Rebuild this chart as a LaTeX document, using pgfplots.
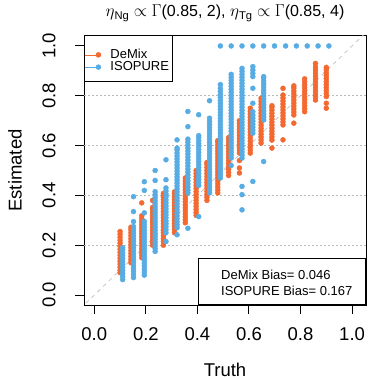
\documentclass[border=0pt]{standalone}
\usepackage{fontspec}
\setmainfont{Liberation Sans}
\usepackage{pgfplots}
\pgfplotsset{compat=1.18}
\definecolor{dmorange}{RGB}{243,105,48}
\definecolor{isoblue}{RGB}{87,172,228}
\begin{document}
\begin{tikzpicture}
\useasboundingbox (0,0) rectangle (368bp,379bp);
\begin{axis}[
  name=ax,
  at={(84bp,74bp)}, anchor=south west,
  scale only axis, width=282bp, height=269bp,
  xmin=-0.04, xmax=1.054, ymin=-0.04, ymax=1.04,
  xtick={0,0.2,0.4,0.6,0.8,1.0}, ytick={0,0.2,0.4,0.6,0.8,1.0},
  xticklabels={0.0,0.2,0.4,0.6,0.8,1.0}, yticklabels={0.0,0.2,0.4,0.6,0.8,1.0},
  xtick pos=lower, ytick pos=left,
  tick align=outside, major tick length=9bp,
  tick style={black, line width=1bp},
  axis line style={line width=1bp},
  ticklabel style={font=\fontsize{18.5bp}{20bp}\selectfont},
  xticklabel style={anchor=center, yshift=-20bp},
  yticklabel style={xshift=-26bp, rotate=90, anchor=center},
  xlabel={Truth}, ylabel={Estimated},
  label style={font=\fontsize{18.5bp}{20bp}\selectfont},
  xlabel style={at={(axis description cs:0.5,-0.2416)}, anchor=center},
  ylabel style={at={(axis description cs:-0.2447,0.5)}, anchor=center},
  title={$\eta$\textsubscript{Ng} $\propto$ $\Gamma$(0.85, 2), $\eta$\textsubscript{Tg} $\propto$ $\Gamma$(0.85, 4)},
  every axis title/.style={at={(axis description cs:0.5,1.0855)}, anchor=center, font=\fontsize{16bp}{18bp}\selectfont},
  extra y ticks={0.2,0.4,0.6,0.8}, extra y tick labels={},
  extra y tick style={grid=major, major tick length=0pt},
  grid style={gray!55, line width=0.8bp, dash pattern=on 1.5bp off 2.5bp},
  legend cell align=left,
  legend style={at={(0,1)}, anchor=north west, draw=none, fill=none,
    yshift=-12.5bp,
    font=\fontsize{13bp}{14bp}\selectfont, inner xsep=0bp, inner ysep=0bp,
    nodes={inner sep=0bp, text height=9.5bp, text depth=2.8bp}, row sep=0bp, column sep=9.3bp},
  legend image code/.code={\path (-14bp,0bp) -- (2.6bp,0bp); \path[#1, draw=none] plot coordinates {(0bp,0bp)};},
]
% DeMix
\addplot[only marks, mark=*, mark size=2.5bp, color=dmorange] coordinates {
(0.100,0.090)(0.100,0.100)(0.100,0.112)(0.100,0.124)(0.100,0.136)(0.100,0.148)(0.100,0.160)(0.100,0.172)(0.100,0.184)(0.100,0.196)(0.100,0.208)(0.100,0.220)(0.100,0.232)(0.100,0.244)(0.100,0.255)
(0.142,0.130)(0.142,0.142)(0.142,0.154)(0.142,0.166)(0.142,0.178)(0.142,0.190)(0.142,0.202)(0.142,0.214)(0.142,0.226)(0.142,0.238)(0.142,0.250)(0.142,0.262)(0.142,0.272)
(0.184,0.150)(0.184,0.162)(0.184,0.174)(0.184,0.186)(0.184,0.198)(0.184,0.210)(0.184,0.222)(0.184,0.234)(0.184,0.246)(0.184,0.258)(0.184,0.270)(0.184,0.282)(0.184,0.294)(0.184,0.306)(0.184,0.318)(0.184,0.370)
(0.226,0.200)(0.226,0.212)(0.226,0.224)(0.226,0.236)(0.226,0.248)(0.226,0.260)(0.226,0.272)(0.226,0.284)(0.226,0.296)(0.226,0.308)(0.226,0.320)(0.226,0.332)(0.226,0.344)(0.226,0.352)(0.226,0.380)
(0.268,0.200)(0.268,0.214)(0.268,0.226)(0.268,0.238)(0.268,0.250)(0.268,0.262)(0.268,0.274)(0.268,0.286)(0.268,0.298)(0.268,0.310)(0.268,0.322)(0.268,0.334)(0.268,0.346)(0.268,0.358)(0.268,0.370)(0.268,0.382)(0.268,0.394)(0.268,0.408)
(0.311,0.250)(0.311,0.262)(0.311,0.274)(0.311,0.286)(0.311,0.298)(0.311,0.310)(0.311,0.322)(0.311,0.334)(0.311,0.346)(0.311,0.358)(0.311,0.370)(0.311,0.382)(0.311,0.394)(0.311,0.406)(0.311,0.414)
(0.353,0.290)(0.353,0.302)(0.353,0.314)(0.353,0.326)(0.353,0.338)(0.353,0.350)(0.353,0.362)(0.353,0.374)(0.353,0.386)(0.353,0.398)(0.353,0.410)(0.353,0.422)(0.353,0.434)(0.353,0.446)(0.353,0.458)(0.353,0.470)
(0.395,0.320)(0.395,0.332)(0.395,0.344)(0.395,0.356)(0.395,0.368)(0.395,0.380)(0.395,0.392)(0.395,0.404)(0.395,0.416)(0.395,0.428)(0.395,0.440)(0.395,0.452)(0.395,0.464)(0.395,0.476)(0.395,0.488)(0.395,0.500)
(0.437,0.380)(0.437,0.392)(0.437,0.404)(0.437,0.416)(0.437,0.428)(0.437,0.440)(0.437,0.452)(0.437,0.464)(0.437,0.476)(0.437,0.488)(0.437,0.500)(0.437,0.512)(0.437,0.524)(0.437,0.532)
(0.479,0.410)(0.479,0.422)(0.479,0.434)(0.479,0.446)(0.479,0.458)(0.479,0.470)(0.479,0.482)(0.479,0.494)(0.479,0.506)(0.479,0.518)(0.479,0.530)(0.479,0.542)(0.479,0.554)(0.479,0.566)(0.479,0.578)(0.479,0.590)(0.479,0.602)(0.479,0.614)(0.479,0.620)
(0.521,0.480)(0.521,0.492)(0.521,0.504)(0.521,0.516)(0.521,0.528)(0.521,0.540)(0.521,0.552)(0.521,0.564)(0.521,0.576)(0.521,0.588)(0.521,0.600)(0.521,0.612)(0.521,0.624)(0.521,0.632)
(0.563,0.490)(0.563,0.510)(0.563,0.540)(0.563,0.570)(0.563,0.582)(0.563,0.594)(0.563,0.606)(0.563,0.618)(0.563,0.630)(0.563,0.642)(0.563,0.654)(0.563,0.666)(0.563,0.678)(0.563,0.690)(0.563,0.700)
(0.605,0.570)(0.605,0.582)(0.605,0.594)(0.605,0.606)(0.605,0.618)(0.605,0.630)(0.605,0.642)(0.605,0.654)(0.605,0.666)(0.605,0.678)(0.605,0.690)(0.605,0.702)(0.605,0.714)(0.605,0.726)(0.605,0.738)(0.605,0.750)
(0.647,0.610)(0.647,0.622)(0.647,0.634)(0.647,0.646)(0.647,0.658)(0.647,0.670)(0.647,0.682)(0.647,0.694)(0.647,0.706)(0.647,0.718)(0.647,0.730)(0.647,0.742)(0.647,0.754)(0.647,0.766)(0.647,0.778)(0.647,0.790)
(0.689,0.590)(0.689,0.622)(0.689,0.634)(0.689,0.646)(0.689,0.658)(0.689,0.670)(0.689,0.682)(0.689,0.694)(0.689,0.706)(0.689,0.718)(0.689,0.730)(0.689,0.742)(0.689,0.754)(0.689,0.760)
(0.732,0.623)(0.732,0.683)(0.732,0.695)(0.732,0.707)(0.732,0.719)(0.732,0.731)(0.732,0.743)(0.732,0.755)(0.732,0.767)(0.732,0.779)(0.732,0.791)(0.732,0.803)(0.732,0.830)
(0.774,0.690)(0.774,0.723)(0.774,0.735)(0.774,0.747)(0.774,0.759)(0.774,0.771)(0.774,0.783)(0.774,0.795)(0.774,0.807)(0.774,0.819)(0.774,0.831)(0.774,0.840)
(0.816,0.736)(0.816,0.748)(0.816,0.760)(0.816,0.772)(0.816,0.784)(0.816,0.796)(0.816,0.808)(0.816,0.820)(0.816,0.832)(0.816,0.844)(0.816,0.856)(0.816,0.868)
(0.858,0.783)(0.858,0.795)(0.858,0.807)(0.858,0.819)(0.858,0.831)(0.858,0.843)(0.858,0.855)(0.858,0.867)(0.858,0.879)(0.858,0.891)(0.858,0.903)(0.858,0.915)(0.858,0.930)
(0.900,0.750)(0.900,0.770)(0.900,0.797)(0.900,0.809)(0.900,0.821)(0.900,0.833)(0.900,0.845)(0.900,0.857)(0.900,0.869)(0.900,0.881)(0.900,0.893)(0.900,0.905)(0.900,0.914)
};
\addlegendentry{DeMix}
% ISOPURE
\addplot[only marks, mark=*, mark size=2.5bp, color=isoblue] coordinates {
(0.110,0.062)(0.110,0.074)(0.110,0.086)(0.110,0.098)(0.110,0.110)(0.110,0.122)(0.110,0.134)(0.110,0.146)(0.110,0.158)(0.110,0.170)(0.110,0.182)(0.110,0.190)
(0.152,0.070)(0.152,0.082)(0.152,0.094)(0.152,0.106)(0.152,0.118)(0.152,0.130)(0.152,0.142)(0.152,0.154)(0.152,0.166)(0.152,0.178)(0.152,0.190)(0.152,0.202)(0.152,0.214)(0.152,0.226)(0.152,0.238)(0.152,0.250)(0.152,0.262)(0.152,0.275)(0.152,0.295)(0.152,0.335)(0.152,0.395)
(0.194,0.080)(0.194,0.092)(0.194,0.104)(0.194,0.116)(0.194,0.128)(0.194,0.140)(0.194,0.152)(0.194,0.164)(0.194,0.176)(0.194,0.188)(0.194,0.200)(0.194,0.212)(0.194,0.224)(0.194,0.236)(0.194,0.248)(0.194,0.260)(0.194,0.272)(0.194,0.284)(0.194,0.296)(0.194,0.330)(0.194,0.420)(0.194,0.455)
(0.236,0.175)(0.236,0.187)(0.236,0.199)(0.236,0.211)(0.236,0.223)(0.236,0.235)(0.236,0.247)(0.236,0.259)(0.236,0.271)(0.236,0.283)(0.236,0.295)(0.236,0.307)(0.236,0.319)(0.236,0.331)(0.236,0.343)(0.236,0.355)(0.236,0.367)(0.236,0.379)(0.236,0.391)(0.236,0.403)(0.236,0.415)(0.236,0.460)(0.236,0.500)
(0.278,0.215)(0.278,0.250)(0.278,0.262)(0.278,0.274)(0.278,0.286)(0.278,0.298)(0.278,0.310)(0.278,0.322)(0.278,0.334)(0.278,0.346)(0.278,0.358)(0.278,0.370)(0.278,0.382)(0.278,0.394)(0.278,0.406)(0.278,0.418)(0.278,0.430)(0.278,0.463)(0.278,0.543)
(0.321,0.242)(0.321,0.270)(0.321,0.282)(0.321,0.294)(0.321,0.306)(0.321,0.318)(0.321,0.330)(0.321,0.342)(0.321,0.354)(0.321,0.366)(0.321,0.378)(0.321,0.390)(0.321,0.402)(0.321,0.414)(0.321,0.426)(0.321,0.438)(0.321,0.450)(0.321,0.462)(0.321,0.474)(0.321,0.486)(0.321,0.498)(0.321,0.510)(0.321,0.522)(0.321,0.534)(0.321,0.546)(0.321,0.558)(0.321,0.570)(0.321,0.582)(0.321,0.590)(0.321,0.623)
(0.363,0.268)(0.363,0.410)(0.363,0.422)(0.363,0.434)(0.363,0.446)(0.363,0.458)(0.363,0.470)(0.363,0.482)(0.363,0.494)(0.363,0.506)(0.363,0.518)(0.363,0.530)(0.363,0.542)(0.363,0.554)(0.363,0.566)(0.363,0.578)(0.363,0.590)(0.363,0.602)(0.363,0.614)(0.363,0.626)(0.363,0.676)(0.363,0.737)
(0.405,0.315)(0.405,0.440)(0.405,0.452)(0.405,0.464)(0.405,0.476)(0.405,0.488)(0.405,0.500)(0.405,0.512)(0.405,0.524)(0.405,0.536)(0.405,0.548)(0.405,0.560)(0.405,0.572)(0.405,0.584)(0.405,0.596)(0.405,0.608)(0.405,0.620)(0.405,0.632)(0.405,0.640)(0.405,0.724)
(0.447,0.410)(0.447,0.422)(0.447,0.434)(0.447,0.446)(0.447,0.458)(0.447,0.470)(0.447,0.482)(0.447,0.494)(0.447,0.506)(0.447,0.518)(0.447,0.530)(0.447,0.542)(0.447,0.554)(0.447,0.566)(0.447,0.578)(0.447,0.590)(0.447,0.602)(0.447,0.614)(0.447,0.626)(0.447,0.638)(0.447,0.650)(0.447,0.662)(0.447,0.674)(0.447,0.686)(0.447,0.698)(0.447,0.710)(0.447,0.780)
(0.489,0.470)(0.489,0.482)(0.489,0.494)(0.489,0.506)(0.489,0.518)(0.489,0.530)(0.489,0.542)(0.489,0.554)(0.489,0.566)(0.489,0.578)(0.489,0.590)(0.489,0.602)(0.489,0.614)(0.489,0.626)(0.489,0.638)(0.489,0.650)(0.489,0.662)(0.489,0.674)(0.489,0.686)(0.489,0.698)(0.489,0.710)(0.489,0.722)(0.489,0.734)(0.489,0.746)(0.489,0.758)(0.489,0.770)(0.489,0.782)(0.489,0.794)(0.489,0.806)(0.489,0.818)(0.489,0.830)(0.489,0.845)(0.489,1.000)
(0.531,0.520)(0.531,0.550)(0.531,0.562)(0.531,0.574)(0.531,0.586)(0.531,0.598)(0.531,0.610)(0.531,0.622)(0.531,0.634)(0.531,0.646)(0.531,0.658)(0.531,0.670)(0.531,0.682)(0.531,0.694)(0.531,0.706)(0.531,0.718)(0.531,0.730)(0.531,0.742)(0.531,0.754)(0.531,0.766)(0.531,0.778)(0.531,0.790)(0.531,0.802)(0.531,0.814)(0.531,0.826)(0.531,0.838)(0.531,0.850)(0.531,0.862)(0.531,0.874)(0.531,0.886)(0.531,1.000)
(0.573,0.342)(0.573,0.403)(0.573,0.436)(0.573,0.550)(0.573,0.562)(0.573,0.574)(0.573,0.586)(0.573,0.598)(0.573,0.610)(0.573,0.622)(0.573,0.634)(0.573,0.646)(0.573,0.658)(0.573,0.670)(0.573,0.682)(0.573,0.694)(0.573,0.706)(0.573,0.718)(0.573,0.730)(0.573,0.742)(0.573,0.754)(0.573,0.766)(0.573,0.778)(0.573,0.790)(0.573,0.802)(0.573,0.814)(0.573,0.826)(0.573,0.838)(0.573,0.850)(0.573,0.862)(0.573,0.874)(0.573,0.886)(0.573,0.898)(0.573,0.910)(0.573,1.000)
(0.615,0.456)(0.615,0.650)(0.615,0.662)(0.615,0.674)(0.615,0.686)(0.615,0.698)(0.615,0.710)(0.615,0.722)(0.615,0.736)(0.615,0.770)(0.615,0.830)(0.615,0.877)(0.615,0.890)(0.615,0.903)(0.615,0.917)(0.615,1.000)
(0.657,0.536)(0.657,0.703)(0.657,0.715)(0.657,0.727)(0.657,0.739)(0.657,0.751)(0.657,0.763)(0.657,0.775)(0.657,0.787)(0.657,0.799)(0.657,0.811)(0.657,0.823)(0.657,0.835)(0.657,0.847)(0.657,0.859)(0.657,0.871)(0.657,0.877)(0.657,1.000)
(0.699,1.000)(0.742,1.000)(0.784,1.000)(0.826,1.000)(0.868,1.000)(0.910,1.000)
};
\addlegendentry{ISOPURE}
\addplot[gray!45, line width=0.8bp, dash pattern=on 4bp off 4bp, forget plot] coordinates {(-0.1,-0.1) (1.1,1.1)};
\end{axis}
\draw[line width=1bp] (ax.north west) rectangle ([xshift=88bp,yshift=-46bp]ax.north west);
\node[draw, line width=1bp, fill=white, minimum width=167bp, minimum height=45.7bp, anchor=south east, inner sep=0pt] (bb) at (ax.south east) {};
\node[anchor=west, align=left, inner sep=0pt, font=\fontsize{13bp}{15.7bp}\selectfont] at ([xshift=23bp,yshift=-1bp]bb.west) {DeMix Bias= 0.046\\ISOPURE Bias= 0.167};
\end{tikzpicture}
\end{document}
